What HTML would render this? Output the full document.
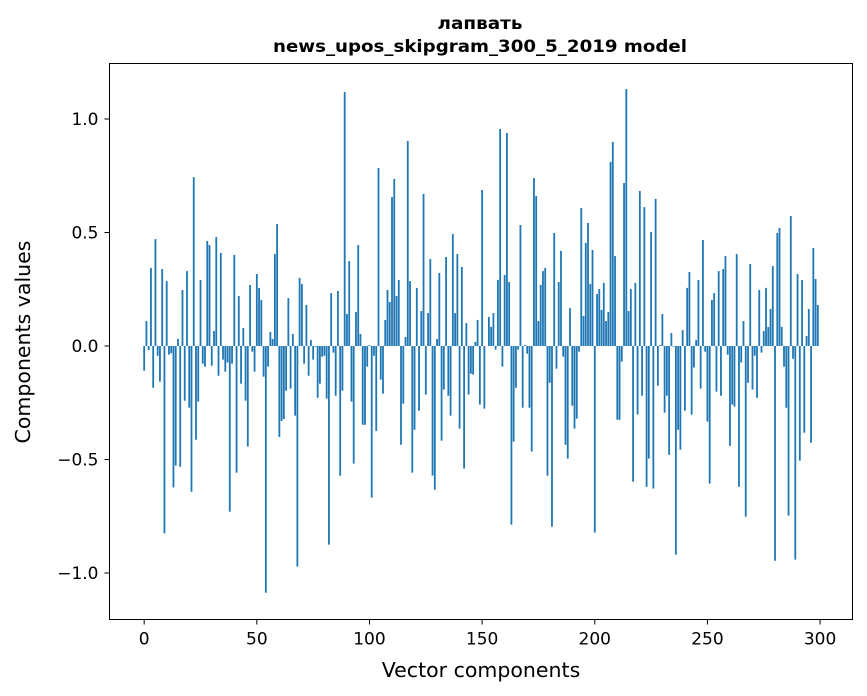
<!DOCTYPE html>
<html><head><meta charset="utf-8"><style>
html,body{margin:0;padding:0;background:#fff;}
svg{display:block;font-family:"DejaVu Sans","Liberation Sans",sans-serif;}
</style></head><body>
<svg id="chart" width="867" height="696" viewBox="0 0 867 696" xmlns="http://www.w3.org/2000/svg">
<rect x="0" y="0" width="867" height="696" fill="#fff"/>
<text x="480" y="29" text-anchor="middle" font-size="17" font-weight="bold" textLength="85" lengthAdjust="spacingAndGlyphs">лапвать</text>
<text x="480" y="52" text-anchor="middle" font-size="17" font-weight="bold" textLength="414" lengthAdjust="spacingAndGlyphs">news_upos_skipgram_300_5_2019 model</text>
<g id="bars"></g>
<g id="axes"></g>
<rect x="109.5" y="63.5" width="743" height="556" fill="none" stroke="#000" stroke-width="1"/>
<text x="481" y="677" text-anchor="middle" font-size="20.5">Vector components</text>
<text transform="translate(30,342) rotate(-90)" text-anchor="middle" font-size="20.5">Components values</text>
</svg>
<script>
const values = [-0.109,0.110,-0.018,0.344,-0.184,0.471,-0.043,-0.157,0.339,-0.825,
0.286,-0.038,-0.032,-0.623,-0.527,0.031,-0.532,0.247,-0.241,0.330,
-0.272,-0.642,0.744,-0.413,-0.245,0.291,-0.078,-0.091,0.463,0.445,
-0.087,0.066,0.480,-0.131,0.410,-0.060,-0.113,-0.073,-0.730,-0.078,
0.401,-0.558,0.220,-0.166,0.079,-0.241,-0.443,0.269,-0.025,-0.113,
0.317,0.256,0.203,-0.135,-1.087,-0.091,0.062,0.031,0.405,0.537,
-0.401,-0.330,-0.322,-0.197,0.211,-0.188,0.053,-0.307,-0.972,0.300,
0.273,-0.078,0.181,-0.131,0.026,-0.060,-0.003,-0.228,-0.166,-0.047,
-0.043,-0.232,-0.875,0.233,-0.029,-0.219,0.242,-0.571,-0.197,1.119,
0.141,0.374,-0.245,-0.518,0.150,0.445,0.053,-0.347,-0.347,-0.091,
0.004,-0.668,-0.043,-0.374,0.784,-0.148,-0.210,0.115,0.247,0.194,
0.656,0.736,0.220,0.291,-0.435,-0.254,0.040,0.903,0.286,-0.558,
-0.369,0.256,-0.285,0.154,0.670,-0.214,0.145,0.383,-0.571,-0.633,
0.031,0.322,-0.417,-0.192,0.392,-0.219,-0.307,0.493,0.145,0.405,
-0.364,0.348,-0.540,0.101,-0.214,-0.122,-0.126,0.018,0.115,-0.258,
0.687,-0.276,0.000,0.128,0.084,0.145,-0.016,0.291,0.956,-0.091,
0.313,0.938,0.282,-0.787,-0.421,-0.184,-0.016,0.533,-0.272,0.004,
-0.034,-0.272,-0.465,0.740,0.661,0.110,0.269,0.330,0.344,-0.571,
-0.162,-0.796,0.498,-0.100,0.282,0.419,-0.047,-0.435,-0.496,0.167,
-0.263,-0.364,-0.320,-0.025,0.608,0.132,0.454,0.542,0.273,0.423,
-0.822,0.229,0.251,0.159,0.278,0.110,0.150,0.811,0.899,0.396,
-0.325,-0.325,-0.069,0.718,1.132,0.154,0.251,-0.598,0.278,-0.302,
0.683,-0.219,0.612,-0.620,-0.496,0.502,-0.628,0.648,-0.175,0.004,
0.141,-0.294,-0.219,-0.479,0.057,-0.003,-0.919,-0.369,-0.457,0.070,
-0.285,0.256,0.326,-0.302,-0.095,0.026,0.291,-0.188,0.467,-0.025,
-0.333,-0.606,0.203,0.233,-0.201,0.330,-0.219,0.339,0.396,-0.038,
-0.440,-0.258,-0.267,0.405,-0.620,-0.073,0.110,-0.752,-0.162,0.361,
-0.192,-0.043,-0.228,0.247,-0.029,0.066,0.256,0.084,0.163,0.352,
-0.946,0.498,0.520,0.084,-0.091,-0.272,-0.747,0.573,-0.056,-0.941,
0.317,-0.505,0.291,-0.382,0.044,0.163,-0.426,0.432,0.295,0.181];
const xTicks = [0,50,100,150,200,250,300];
const yTicks = [-1.0,-0.5,0.0,0.5,1.0];
const yTickLabels = ["\u22121.0","\u22120.5","0.0","0.5","1.0"];

const NS = "http://www.w3.org/2000/svg";
const L = 109.5, R = 852.5, T = 63.5, B = 619.5;
const xMin = -15.39, xMax = 314.39;
function xScale(v){ return L + (v - xMin) / (xMax - xMin) * (R - L); }
function yScale(v){ return 346 - v * 227; }

const barsG = document.getElementById('bars');
values.forEach((v, i) => {
  const r = document.createElementNS(NS, 'rect');
  const x0 = xScale(i - 0.4), x1 = xScale(i + 0.4);
  const y0 = yScale(Math.max(v, 0)), y1 = yScale(Math.min(v, 0));
  r.setAttribute('x', x0);
  r.setAttribute('width', x1 - x0);
  r.setAttribute('y', y0);
  r.setAttribute('height', Math.max(y1 - y0, 0));
  r.setAttribute('fill', '#1f77b4');
  
  
  barsG.appendChild(r);
});

const axesG = document.getElementById('axes');
xTicks.forEach(t => {
  const x = xScale(t);
  const ln = document.createElementNS(NS, 'line');
  ln.setAttribute('x1', x); ln.setAttribute('x2', x);
  ln.setAttribute('y1', B); ln.setAttribute('y2', B + 5);
  ln.setAttribute('stroke', '#000');
  
  
  axesG.appendChild(ln);
  const tx = document.createElementNS(NS, 'text');
  tx.setAttribute('x', x); tx.setAttribute('y', B + 25);
  tx.setAttribute('text-anchor', 'middle');
  tx.setAttribute('font-size', '17');
  tx.textContent = String(t);
  
  
  axesG.appendChild(tx);
});
yTicks.forEach((t, k) => {
  const y = yScale(t);
  const ln = document.createElementNS(NS, 'line');
  ln.setAttribute('x1', L - 5); ln.setAttribute('x2', L);
  ln.setAttribute('y1', y); ln.setAttribute('y2', y);
  ln.setAttribute('stroke', '#000');
  
  
  axesG.appendChild(ln);
  const tx = document.createElementNS(NS, 'text');
  tx.setAttribute('x', L - 11); tx.setAttribute('y', y + 6);
  tx.setAttribute('text-anchor', 'end');
  tx.setAttribute('font-size', '17');
  tx.textContent = yTickLabels[k];
  
  
  axesG.appendChild(tx);
});
</script>
</body></html>
